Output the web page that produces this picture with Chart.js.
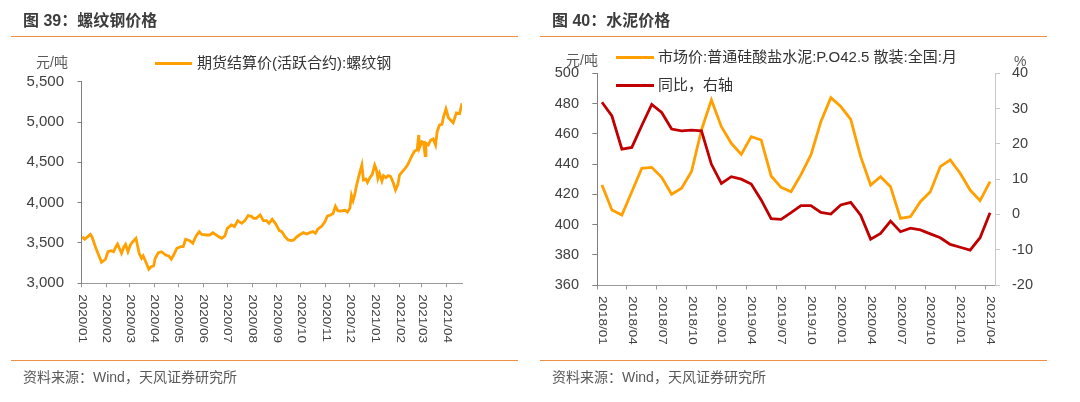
<!DOCTYPE html>
<html>
<head>
<meta charset="utf-8">
<script src="https://cdn.jsdelivr.net/npm/chart.js@4.4.1/dist/chart.umd.min.js"></script>
<style>
  body { margin: 0; width: 1080px; height: 402px; background: #fff; overflow: hidden; position: relative;
         font-family: 'Liberation Sans', Arial, 'Noto Sans CJK SC', sans-serif; }
  canvas { position: absolute; top: 0; }
  .t { position: absolute; white-space: nowrap; }
  .title { font-size: 16px; font-weight: bold; color: #3c3c3c; top: 11px; line-height: 20px; }
  .rule { position: absolute; height: 0; border-top: 1.5px solid #EF8E45; }
  .src { font-size: 14px; color: #595959; top: 369px; line-height: 16px; }
  .lg { font-size: 15px; color: #333; line-height: 18px; }
  .sw { position: absolute; height: 3px; }
  .unit { font-size: 14px; color: #595959; line-height: 16px; }
</style>
</head>
<body>
<canvas id="rebar" width="540" height="402" style="left:0"></canvas>
<canvas id="cement" width="540" height="402" style="left:540px"></canvas>

<div class="t title" style="left:23px">图 39：螺纹钢价格</div>
<div class="rule" style="left:11px;width:507px;top:36px"></div>
<div class="t unit" style="left:36px;top:54px">元/吨</div>
<div class="sw" style="left:155px;top:61.5px;width:37px;background:#FF9F00"></div>
<div class="t lg" style="left:197px;top:54px">期货结算价(活跃合约):螺纹钢</div>
<div class="rule" style="left:11px;width:507px;top:359.5px"></div>
<div class="t src" style="left:23px">资料来源：Wind，天风证券研究所</div>

<div class="t title" style="left:552px">图 40：水泥价格</div>
<div class="rule" style="left:540px;width:507px;top:36px"></div>
<div class="t unit" style="left:566px;top:52px">元/吨</div>
<div class="t unit" style="left:1014px;top:53px">%</div>
<div class="sw" style="left:616px;top:55.5px;width:38px;background:#FF9F00"></div>
<div class="t lg" style="left:658px;top:48px">市场价:普通硅酸盐水泥:P.O42.5 散装:全国:月</div>
<div class="sw" style="left:616px;top:83.5px;width:38px;background:#C00000"></div>
<div class="t lg" style="left:658px;top:76px">同比，右轴</div>
<div class="rule" style="left:540px;width:507px;top:359.5px"></div>
<div class="t src" style="left:552px">资料来源：Wind，天风证券研究所</div>

<script>
// ---- 图39 螺纹钢 期货结算价 (元/吨)
const rebarDates = [
  '2020-01-02','2020-01-05','2020-01-12','2020-01-14','2020-01-19','2020-01-26','2020-01-31',
  '2020-02-03','2020-02-07','2020-02-10','2020-02-13','2020-02-15','2020-02-20','2020-02-23','2020-02-25','2020-02-28',
  '2020-03-02','2020-03-05','2020-03-09','2020-03-13','2020-03-16','2020-03-18','2020-03-22','2020-03-25','2020-03-28','2020-03-31',
  '2020-04-02','2020-04-06','2020-04-10','2020-04-15','2020-04-19','2020-04-22','2020-04-25','2020-04-29',
  '2020-05-04','2020-05-07','2020-05-10','2020-05-15','2020-05-19','2020-05-23','2020-05-27','2020-05-30',
  '2020-06-05','2020-06-09','2020-06-13','2020-06-19','2020-06-24','2020-06-28',
  '2020-07-01','2020-07-06','2020-07-10','2020-07-14','2020-07-19','2020-07-23','2020-07-27','2020-07-31',
  '2020-08-03','2020-08-06','2020-08-11','2020-08-15','2020-08-19','2020-08-22','2020-08-26','2020-08-30',
  '2020-09-04','2020-09-07','2020-09-11','2020-09-15','2020-09-19','2020-09-22','2020-09-25','2020-09-29',
  '2020-10-04','2020-10-08','2020-10-12','2020-10-16','2020-10-19','2020-10-22','2020-10-27','2020-10-31',
  '2020-11-03','2020-11-07','2020-11-10','2020-11-13','2020-11-16','2020-11-19','2020-11-22','2020-11-25','2020-11-28',
  '2020-12-01','2020-12-03','2020-12-05','2020-12-07','2020-12-09','2020-12-12','2020-12-16','2020-12-18','2020-12-21','2020-12-23','2020-12-26','2020-12-29',
  '2021-01-01','2021-01-03','2021-01-05','2021-01-07','2021-01-10','2021-01-12','2021-01-15','2021-01-18','2021-01-21','2021-01-24','2021-01-27','2021-01-30',
  '2021-02-01','2021-02-05','2021-02-08','2021-02-11','2021-02-14','2021-02-17','2021-02-20','2021-02-23','2021-02-25','2021-02-26',
  '2021-03-01','2021-03-03','2021-03-05','2021-03-06','2021-03-09','2021-03-12','2021-03-15','2021-03-18','2021-03-20','2021-03-23','2021-03-26','2021-03-28','2021-03-31',
  '2021-04-03','2021-04-09','2021-04-13','2021-04-17','2021-04-20'
];
const rebarPrices = [
  3578,3546,3607,3578,3434,3260,3298,
  3392,3404,3392,3454,3487,3372,3454,3483,3392,
  3475,3516,3558,3372,3310,3339,3248,3174,3206,3215,
  3310,3380,3392,3351,3339,3298,3351,3434,
  3454,3454,3546,3529,3496,3587,3640,3607,
  3599,3599,3628,3587,3558,3587,
  3682,3723,3703,3777,3744,3777,3840,3830,
  3806,3806,3847,3777,3777,3744,3794,3744,
  3653,3641,3579,3537,3529,3537,3570,3599,
  3628,3612,3628,3641,3620,3670,3711,3765,
  3835,3847,3865,3955,3900,3895,3900,3905,3885,
  3930,4090,4025,4095,4198,4322,4467,4281,4293,4252,4310,4351,
  4467,4417,4301,4363,4268,4334,4310,4334,4322,4252,4157,4227,
  4343,4392,4425,4467,4529,4591,4641,4653,4839,4682,
  4757,4748,4583,4736,4715,4777,4790,4715,4881,4963,4971,5066,5161,
  5054,4991,5114,5105,5232
];
const rebarTicks = ['2020/01','2020/02','2020/03','2020/04','2020/05','2020/06','2020/07','2020/08',
  '2020/09','2020/10','2020/11','2020/12','2021/01','2021/02','2021/03','2021/04'];

// ---- 图40 水泥 价格 (元/吨) 与同比 (%)
const cementMonths = [
  '2018/01','2018/02','2018/03','2018/04','2018/05','2018/06','2018/07','2018/08','2018/09','2018/10','2018/11','2018/12',
  '2019/01','2019/02','2019/03','2019/04','2019/05','2019/06','2019/07','2019/08','2019/09','2019/10','2019/11','2019/12',
  '2020/01','2020/02','2020/03','2020/04','2020/05','2020/06','2020/07','2020/08','2020/09','2020/10','2020/11','2020/12',
  '2021/01','2021/02','2021/03','2021/04'
];
const cementPrice = [
  426.1,409.6,406.3,421.7,437.2,437.8,431.2,420.0,424.0,435.0,462.5,482.4,
  464.7,453.7,446.4,458.1,455.9,432.1,424.6,421.7,433.0,446.0,468.0,483.9,
  478.0,469.6,444.9,426.1,431.6,425.0,404.1,405.2,415.1,421.7,438.3,442.7,
  433.9,422.8,415.8,428.3
];
const cementYoy = [
  31.8,27.9,18.5,19.0,25.2,31.2,28.9,24.2,23.7,23.9,23.7,14.2,
  8.8,10.7,10.0,8.6,4.1,-1.2,-1.4,0.5,2.5,2.5,0.6,0.1,
  2.7,3.4,-0.2,-7.0,-5.4,-1.9,-4.9,-3.9,-4.4,-5.5,-6.6,-8.5,
  -9.3,-10.1,-6.6,0.5
];

const ORANGE = '#FF9F00';
const RED = '#C00000';
const TICK_TXT = '#404040';
const FONT = "'Liberation Sans', Arial, 'Noto Sans CJK SC', sans-serif";

const dayOf = s => {
  const [y, m, d] = s.split(/[-\/]/).map(Number);
  return (Date.UTC(y, m - 1, d || 1) - Date.UTC(2020, 0, 1)) / 864e5;
};

// x labels in the reference read top-to-bottom (rotated clockwise)
const verticalTicks = {
  id: 'verticalTicks',
  afterDraw(chart, args, opts) {
    const sc = chart.scales.x;
    const ctx = chart.ctx;
    ctx.save();
    ctx.font = opts.fontStr;
    ctx.fillStyle = TICK_TXT;
    ctx.textAlign = 'left';
    ctx.textBaseline = 'middle';
    opts.items.forEach(it => {
      const x = sc.getPixelForValue(it.value);
      ctx.save();
      ctx.translate(x, sc.top + opts.gap);
      ctx.rotate(Math.PI / 2);
      ctx.scale(1, opts.squeeze);
      ctx.fillText(it.text, 0, 0);
      ctx.restore();
    });
    ctx.restore();
  }
};

new Chart(document.getElementById('rebar'), {
  type: 'line',
  data: {
    datasets: [{
      data: rebarDates.map((d, i) => ({ x: dayOf(d), y: rebarPrices[i] })),
      borderColor: ORANGE, borderWidth: 2.8, pointRadius: 0, tension: 0
    }]
  },
  options: {
    responsive: false, animation: false,
    layout: { padding: { left: 11.5, right: 78, top: 81.7, bottom: 48.7 } },
    plugins: {
      legend: { display: false }, tooltip: { enabled: false },
      verticalTicks: {
        items: rebarTicks.map(t => ({ value: dayOf(t), text: t })),
        fontStr: '13.5px ' + FONT, gap: 11, squeeze: 0.8
      }
    },
    scales: {
      x: {
        type: 'linear', min: 0, max: dayOf('2021-04-20'),
        afterBuildTicks: s => { s.ticks = rebarTicks.map(t => ({ value: dayOf(t) })); },
        afterFit: s => { s.height = 70; },
        ticks: { display: false },
        grid: { drawOnChartArea: false, tickLength: 4, color: '#999' },
        border: { color: '#999' }
      },
      y: {
        min: 3000, max: 5500,
        afterFit: s => { s.width = 70; },
        ticks: { stepSize: 500, padding: 13.5, color: TICK_TXT, font: { size: 15, family: FONT },
                 callback: v => v.toLocaleString('en-US') },
        grid: { drawOnChartArea: false, tickLength: 4, color: '#808080' },
        border: { color: '#808080' }
      }
    }
  },
  plugins: [verticalTicks]
});

new Chart(document.getElementById('cement'), {
  type: 'line',
  data: {
    labels: cementMonths,
    datasets: [
      { data: cementPrice, yAxisID: 'y', borderColor: ORANGE, borderWidth: 2.8, pointRadius: 0, tension: 0, order: 1 },
      { data: cementYoy, yAxisID: 'y1', borderColor: RED, borderWidth: 2.8, pointRadius: 0, tension: 0, order: 0 }
    ]
  },
  options: {
    responsive: false, animation: false,
    layout: { padding: { left: 7, right: 45, top: 73.3, bottom: 47 } },
    plugins: {
      legend: { display: false }, tooltip: { enabled: false },
      verticalTicks: {
        items: cementMonths.map((t, i) => ({ value: i, text: t })).filter(it => it.value % 3 === 0),
        fontStr: '13.5px ' + FONT, gap: 11, squeeze: 0.8
      }
    },
    scales: {
      x: {
        offset: true,
        afterFit: s => { s.height = 70; },
        ticks: { display: false, autoSkip: false },
        grid: { offset: true, drawOnChartArea: false, tickLength: 4.5,
                color: c => (c.index % 3 === 0 ? '#999' : 'rgba(0,0,0,0)') },
        border: { color: '#999' }
      },
      y: {
        position: 'left', min: 360, max: 500,
        afterFit: s => { s.width = 50; },
        ticks: { stepSize: 20, padding: 13.3, color: TICK_TXT, font: { size: 14.5, family: FONT } },
        grid: { drawOnChartArea: false, tickLength: 4.7, color: '#808080' },
        border: { color: '#808080' }
      },
      y1: {
        position: 'right', min: -20, max: 40,
        afterFit: s => { s.width = 40; },
        ticks: { stepSize: 10, padding: 12, color: TICK_TXT, font: { size: 14.5, family: FONT } },
        grid: { drawOnChartArea: false, tickLength: 5, color: '#c8c8c8' },
        border: { color: '#c8c8c8' }
      }
    }
  },
  plugins: [verticalTicks]
});
</script>
</body>
</html>
